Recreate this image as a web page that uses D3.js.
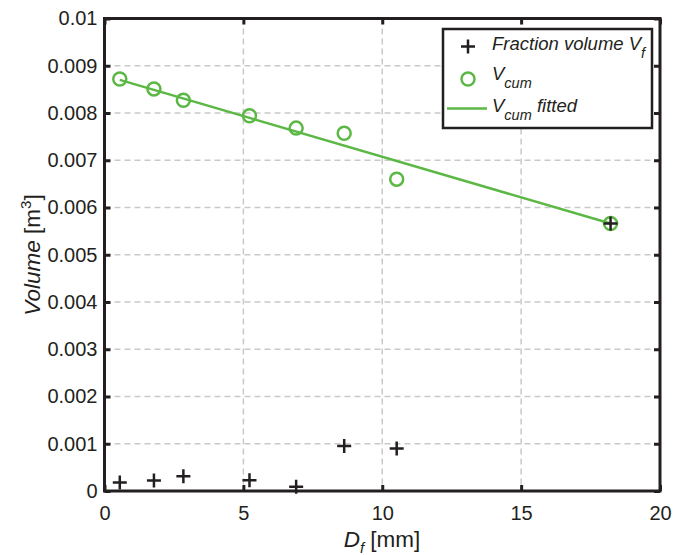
<!DOCTYPE html>
<html>
<head>
<meta charset="utf-8">
<script src="https://cdn.jsdelivr.net/npm/d3@7"></script>
<style>
  body { margin: 0; background: #fff; }
  svg { display: block; font-family: "Liberation Sans", Arial, sans-serif; }
</style>
</head>
<body>
<svg id="chart" width="686" height="555"></svg>
<script>
// fraction diameters D_f [mm]
const diam = [0.55, 1.78, 2.84, 5.22, 6.9, 8.63, 10.52, 18.22];
// fraction volume V_f [m3]
const fracVol = [0.00018, 0.00022, 0.00031, 0.00023, 0.00009, 0.00095, 0.0009, 0.00566];
// cumulative volume V_cum [m3]
const cumVol = [0.00872, 0.00851, 0.00827, 0.00794, 0.00768, 0.00757, 0.0066, 0.00566];
// fitted line end points
const fitX = [0.55, 18.22];
const fitY = [0.0087, 0.00566];

const xTicks = [0, 5, 10, 15, 20];
const yTicks = [0, 0.001, 0.002, 0.003, 0.004, 0.005, 0.006, 0.007, 0.008, 0.009, 0.01];
const yTickLabels = ['0', '0.001', '0.002', '0.003', '0.004', '0.005', '0.006', '0.007', '0.008', '0.009', '0.01'];

const green = '#5cb845';
const ink = '#231f20';

const svg = d3.select('#chart');
svg.append('rect').attr('width', 686).attr('height', 555).attr('fill', '#fff');

const plotL = 104.5, plotR = 660, plotT = 18.5, plotB = 491;
const x = d3.scaleLinear().domain([0, 20]).range([plotL, plotR]);
const y = d3.scaleLinear().domain([0, 0.01]).range([plotB, plotT]);

// grid
const grid = svg.append('g')
  .attr('stroke', '#c9c9c9').attr('stroke-width', 1.5).attr('stroke-dasharray', '6,4');
grid.selectAll('.gx').data(xTicks.slice(1, -1)).enter().append('line')
  .attr('x1', d => x(d)).attr('x2', d => x(d)).attr('y1', plotT).attr('y2', plotB);
grid.selectAll('.gy').data(yTicks.slice(1, -1)).enter().append('line')
  .attr('y1', d => y(d)).attr('y2', d => y(d)).attr('x1', plotL).attr('x2', plotR);

// axes (ticks inward on all four sides)
const tickFont = '20px';
const gx = svg.append('g').attr('transform', `translate(0,${plotB})`)
  .call(d3.axisBottom(x).tickValues(xTicks).tickSize(-6).tickPadding(15).tickFormat(d3.format('d')));
const gy = svg.append('g').attr('transform', `translate(${plotL},0)`)
  .call(d3.axisLeft(y).tickValues(yTicks).tickSize(-6).tickPadding(7).tickFormat((d, i) => yTickLabels[i]));
const gt = svg.append('g').attr('transform', `translate(0,${plotT})`)
  .call(d3.axisTop(x).tickValues(xTicks).tickSize(-6).tickFormat(''));
const gr = svg.append('g').attr('transform', `translate(${plotR},0)`)
  .call(d3.axisRight(y).tickValues(yTicks).tickSize(-6).tickFormat(''));

[gx, gy, gt, gr].forEach(g => {
  g.select('.domain').remove();
  g.selectAll('.tick line').attr('stroke', ink).attr('stroke-width', 3);
  g.selectAll('.tick text').attr('fill', ink).style('font-size', tickFont)
    .style('font-family', '"Liberation Sans", Arial, sans-serif');
});

svg.append('rect')
  .attr('x', plotL).attr('y', plotT).attr('width', plotR - plotL).attr('height', plotB - plotT)
  .attr('fill', 'none').attr('stroke', ink).attr('stroke-width', 3);

// fitted line
const line = d3.line().x(d => x(d[0])).y(d => y(d[1]));
svg.append('path')
  .datum(fitX.map((d, i) => [d, fitY[i]]))
  .attr('d', line).attr('fill', 'none').attr('stroke', green).attr('stroke-width', 2.5);

// cumulative circles
svg.append('g').selectAll('circle')
  .data(diam.map((d, i) => [d, cumVol[i]]))
  .enter().append('circle')
  .attr('cx', d => x(d[0])).attr('cy', d => y(d[1])).attr('r', 6.5)
  .attr('fill', 'none').attr('stroke', green).attr('stroke-width', 2.5);

// fraction plus markers
const plus = 'M-7,0H7M0,-7V7';
svg.append('g').selectAll('path')
  .data(diam.map((d, i) => [d, fracVol[i]]))
  .enter().append('path')
  .attr('transform', d => `translate(${x(d[0])},${y(d[1])})`)
  .attr('d', plus).attr('stroke', ink).attr('stroke-width', 2.5);

// legend
const lg = svg.append('g');
lg.append('rect').attr('x', 443).attr('y', 29).attr('width', 209).attr('height', 99)
  .attr('fill', '#fff').attr('stroke', ink).attr('stroke-width', 2.5);
lg.append('path').attr('transform', 'translate(468,46.5)').attr('d', plus)
  .attr('stroke', ink).attr('stroke-width', 2.5);
lg.append('circle').attr('cx', 468).attr('cy', 79).attr('r', 6.5)
  .attr('fill', 'none').attr('stroke', green).attr('stroke-width', 2.5);
lg.append('line').attr('x1', 447).attr('x2', 487).attr('y1', 108.5).attr('y2', 108.5)
  .attr('stroke', green).attr('stroke-width', 2.5);

const legendText = (yy, main, sub, tail) => {
  const t = lg.append('text').attr('x', 492).attr('y', yy)
    .attr('fill', ink).style('font-size', '18.5px').style('font-style', 'italic');
  t.append('tspan').text(main);
  t.append('tspan').attr('dy', 8).style('font-size', '14.5px').text(sub);
  if (tail) t.append('tspan').attr('dy', -8).text(tail);
};
legendText(50, 'Fraction volume V', 'f');
legendText(80, 'V', 'cum');
legendText(112, 'V', 'cum', ' fitted');

// axis labels
const labelFont = '22.5px';
const xl = svg.append('text').attr('x', 382).attr('y', 547).attr('text-anchor', 'middle')
  .attr('fill', ink).style('font-size', labelFont);
xl.append('tspan').style('font-style', 'italic').text('D');
xl.append('tspan').attr('dy', 6).style('font-style', 'italic').style('font-size', '15px').text('f');
xl.append('tspan').attr('dy', -6).text(' [mm]');

const yl = svg.append('text').attr('transform', 'translate(40,255) rotate(-90)')
  .attr('text-anchor', 'middle').attr('fill', ink).style('font-size', labelFont);
yl.append('tspan').style('font-style', 'italic').text('Volume');
yl.append('tspan').text(' [m');
yl.append('tspan').attr('dy', -9).style('font-size', '15px').text('3');
yl.append('tspan').attr('dy', 9).text(']');
</script>
</body>
</html>
